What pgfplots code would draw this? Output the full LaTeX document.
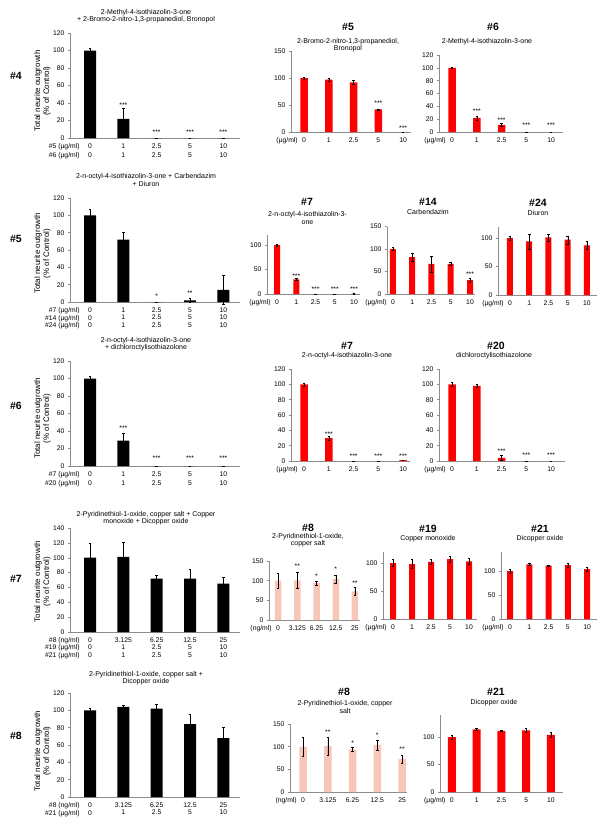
\documentclass[border=0pt]{standalone}
\usepackage{fontspec}
\setmainfont{Liberation Sans}
\usepackage{pgfplots}
\pgfplotsset{compat=1.18}
\definecolor{barred}{RGB}{255,0,0}
\definecolor{salmon}{RGB}{247,198,184}
\definecolor{axgray}{RGB}{140,140,140}
\newcommand{\tl}{\fontsize{6.8}{7.6}\selectfont}
\newcommand{\ttl}{\fontsize{7}{7.6}\selectfont}
\newcommand{\hd}{\fontsize{10.5}{12}\selectfont\bfseries}
\newcommand{\ylab}{\fontsize{8}{9}\selectfont}
\tikzset{star/.style={font=\tl, inner sep=0pt}}
\pgfplotsset{
 base/.style={scale only axis, clip=false, axis x line*=bottom, axis y line*=left,
   axis line style={draw=axgray, line width=0.5pt},
   ymin=0, xtick={0,1,2,3,4}, x tick style={draw=none},
   y tick style={draw=axgray, line width=0.4pt}, major tick length=2pt, tick align=outside,
   tick label style={font=\tl}, /pgf/number format/assume math mode=true,
   anchor=south west, ybar, bar width=6pt},
 leftax/.style={base, width=170pt, xmin=-0.6, xmax=4.5, ymax=120, ytick={0,20,...,120}, bar width=12pt,
   xticklabel style={align=center}},
 bars/.style={fill=#1, draw=none, error bars/.cd, y dir=both, y explicit,
   error bar style={black, line width=0.4pt},
   error mark options={rotate=90, black, mark size=1.3pt, line width=0.4pt}},
}
\newcommand{\ugl}{\llap{(µg/ml)\hspace{4.5pt}}0}
\newcommand{\ngl}{\llap{(ng/ml)\hspace{4.5pt}}0}
\begin{document}
\begin{tikzpicture}
\useasboundingbox (0pt,0pt) rectangle (609pt,-827pt);
% ================= Row #4 =================
\node[font=\hd] at (16pt,-76pt) {\#4};
\node[rotate=90, align=center, font=\ylab] at (42.5pt,-91pt) {Total neurite outgrowth\\(\% of Control)};
\node[align=center, font=\ttl] at (146pt,-16pt) {2-Methyl-4-isothiazolin-3-one\\+ 2-Bromo-2-nitro-1,3-propanediol, Bronopol};
\begin{axis}[leftax, at={(70pt,-138pt)}, height=105pt,
 xticklabels={{\llap{\#5 (µg/ml)\hspace{8.5pt}}0\\\llap{\#6 (µg/ml)\hspace{8.5pt}}0},{1\\1},{2.5\\2.5},{5\\5},{10\\10}},
 xticklabel style={font=\fontsize{6.8}{9.5}\selectfont}]
\addplot[bars=black] table[x=x,y=y,y error=e]{
x y e
0 100 3
1 22 12
2 0 0
3 0 0
4 0 0
};
\node[star] at (axis cs:1,37.7){***};
\node[star] at (axis cs:2,6.9){***};
\node[star] at (axis cs:3,6.9){***};
\node[star] at (axis cs:4,6.9){***};
\end{axis}
% #5
\node[font=\hd] at (348pt,-27pt) {\#5};
\node[align=center, font=\ttl] at (348pt,-45pt) {2-Bromo-2-nitro-1,3-propanediol,\\Bronopol};
\begin{axis}[base, at={(291pt,-132pt)}, width=119.5pt, height=81pt, xmin=-0.53, xmax=4.3, ymax=150, ytick={0,50,100,150},
 xticklabels={\ugl,1,2.5,5,10}, bar width=7.5pt]
\addplot[bars=barred] table[x=x,y=y,y error=e]{
x y e
0 100 1.5
1 97 2
2 92 4
3 42 1
4 0 0
};
\node[star] at (axis cs:3,53.7){***};
\node[star] at (axis cs:4,7.4){***};
\end{axis}
% #6
\node[font=\hd] at (493pt,-27pt) {\#6};
\node[align=center, font=\ttl] at (487pt,-42pt) {2-Methyl-4-isothiazolin-3-one};
\begin{axis}[base, at={(439pt,-132pt)}, width=124pt, height=77pt, xmin=-0.53, xmax=4.48, ymax=120, ytick={0,20,...,120},
 xticklabels={\ugl,1,2.5,5,10}, bar width=7.5pt]
\addplot[bars=barred] table[x=x,y=y,y error=e]{
x y e
0 100 1
1 22 3
2 11 2
3 0 0
4 0 0
};
\node[star] at (axis cs:1,32.7){***};
\node[star] at (axis cs:2,18.7){***};
\node[star] at (axis cs:3,10.9){***};
\node[star] at (axis cs:4,10.9){***};
\end{axis}
% ================= Row #5 =================
\node[font=\hd] at (16pt,-239pt) {\#5};
\node[rotate=90, align=center, font=\ylab] at (42.5pt,-253.5pt) {Total neurite outgrowth\\(\% of Control)};
\node[align=center, font=\ttl] at (146pt,-180pt) {2-n-octyl-4-isothiazolin-3-one + Carbendazim\\+ Diuron};
\begin{axis}[leftax, at={(70pt,-302pt)}, height=104pt,
 xticklabels={{\llap{\#7 (µg/ml)\hspace{8.5pt}}0\\\llap{\#14 (µg/ml)\hspace{8.5pt}}0\\\llap{\#24 (µg/ml)\hspace{8.5pt}}0},{1\\1\\1},{2.5\\2.5\\2.5},{5\\5\\5},{10\\10\\10}},
 xticklabel style={font=\fontsize{6.8}{7.6}\selectfont}]
\addplot[bars=black] table[x=x,y=y,y error=e]{
x y e
0 100 7
1 72 8
2 0 0
3 2 2
4 14 17
};
\node[star] at (axis cs:2,6.9){*};
\node[star] at (axis cs:3,10.4){**};
\end{axis}
% #7
\node[font=\hd] at (307pt,-202pt) {\#7};
\node[align=center, font=\ttl] at (307.5pt,-218pt) {2-n-octyl-4-isothiazolin-3-\\one};
\begin{axis}[base, at={(267pt,-294pt)}, width=92.8pt, height=58.8pt, xmin=-0.52, xmax=4.3, ymax=120, ytick={0,50,100},
 xticklabels={\ugl,1,2.5,5,10}, bar width=6pt]
\addplot[bars=barred] table[x=x,y=y,y error=e]{
x y e
0 100 2
1 30 2
2 0 0
3 0 0
4 0.5 0.5
};
\node[star] at (axis cs:1,36.7){***};
\node[star] at (axis cs:2,10.2){***};
\node[star] at (axis cs:3,10.2){***};
\node[star] at (axis cs:4,10.2){***};
\end{axis}
% #14
\node[font=\hd] at (428pt,-202pt) {\#14};
\node[align=center, font=\ttl] at (428pt,-212pt) {Carbendazim};
\begin{axis}[base, at={(387pt,-294pt)}, width=88pt, height=67.5pt, xmin=-0.31, xmax=4.26, ymax=150, ytick={0,50,100,150},
 xticklabels={\ugl,1,2.5,5,10}, bar width=6pt]
\addplot[bars=barred] table[x=x,y=y,y error=e]{
x y e
0 100 3
1 82 8
2 67 18
3 67 4
4 31 4
};
\node[star] at (axis cs:4,44){***};
\end{axis}
% #24
\node[font=\hd] at (538pt,-203pt) {\#24};
\node[align=center, font=\ttl] at (538pt,-213pt) {Diuron};
\begin{axis}[base, at={(498pt,-295pt)}, width=98.6pt, height=68.4pt, xmin=-0.62, xmax=4.5, ymax=120, ytick={0,50,100},
 xticklabels={\ugl,1,2.5,5,10}, bar width=6pt]
\addplot[bars=barred] table[x=x,y=y,y error=e]{
x y e
0 100 4
1 94 13
2 101 6
3 97 7
4 87 7
};
\end{axis}
% ================= Row #6 =================
\node[font=\hd] at (16pt,-406pt) {\#6};
\node[rotate=90, align=center, font=\ylab] at (42.5pt,-418.5pt) {Total neurite outgrowth\\(\% of Control)};
\node[align=center, font=\ttl] at (146pt,-344pt) {2-n-octyl-4-isothiazolin-3-one\\+ dichloroctylisothiazolone};
\begin{axis}[leftax, at={(70pt,-466pt)}, height=105pt,
 xticklabels={{\llap{\#7 (µg/ml)\hspace{8.5pt}}0\\\llap{\#20 (µg/ml)\hspace{8.5pt}}0},{1\\1},{2.5\\2.5},{5\\5},{10\\10}},
 xticklabel style={font=\fontsize{6.8}{9.3}\selectfont}]
\addplot[bars=black] table[x=x,y=y,y error=e]{
x y e
0 100 3
1 29 9
2 0 0
3 0 0
4 0 0
};
\node[star] at (axis cs:1,43.4){***};
\node[star] at (axis cs:2,9.1){***};
\node[star] at (axis cs:3,9.1){***};
\node[star] at (axis cs:4,9.1){***};
\end{axis}
% #7
\node[font=\hd] at (347pt,-346pt) {\#7};
\node[align=center, font=\ttl] at (347pt,-356pt) {2-n-octyl-4-isothiazolin-3-one};
\begin{axis}[base, at={(291pt,-461pt)}, width=119pt, height=92pt, xmin=-0.53, xmax=4.28, ymax=120, ytick={0,20,...,120},
 xticklabels={\ugl,1,2.5,5,10}, bar width=7.5pt]
\addplot[bars=barred] table[x=x,y=y,y error=e]{
x y e
0 100 2
1 30 3
2 0 0
3 0 0
4 1 0.5
};
\node[star] at (axis cs:1,35.2){***};
\node[star] at (axis cs:2,6.5){***};
\node[star] at (axis cs:3,6.5){***};
\node[star] at (axis cs:4,6.5){***};
\end{axis}
% #20
\node[font=\hd] at (496pt,-346pt) {\#20};
\node[align=center, font=\ttl] at (494pt,-356pt) {dichloroctylisothiazolone};
\begin{axis}[base, at={(439pt,-461pt)}, width=125.7pt, height=92pt, xmin=-0.53, xmax=4.55, ymax=120, ytick={0,20,...,120},
 xticklabels={\ugl,1,2.5,5,10}, bar width=7.5pt]
\addplot[bars=barred] table[x=x,y=y,y error=e]{
x y e
0 100 3
1 98 2
2 4 3
3 0 0
4 0 0
};
\node[star] at (axis cs:2,13){***};
\node[star] at (axis cs:3,7.8){***};
\node[star] at (axis cs:4,7.8){***};
\end{axis}
% ================= Row #7 =================
\node[font=\hd] at (16pt,-579pt) {\#7};
\node[rotate=90, align=center, font=\ylab] at (42.5pt,-581.7pt) {Total neurite outgrowth\\(\% of Control)};
\node[align=center, font=\ttl] at (146pt,-518pt) {2-Pyridinethiol-1-oxide, copper salt + Copper\\monoxide + Dicopper oxide};
\begin{axis}[leftax, at={(70pt,-632pt)}, height=104pt, ymax=140, ytick={0,20,...,140},
 xticklabels={{\llap{\#8 (ng/ml)\hspace{8.5pt}}0\\\llap{\#19 (µg/ml)\hspace{8.5pt}}0\\\llap{\#21 (µg/ml)\hspace{8.5pt}}0},{3.125\\1\\1},{6.25\\2.5\\2.5},{12.5\\5\\5},{25\\10\\10}},
 xticklabel style={font=\fontsize{6.8}{7.5}\selectfont}]
\addplot[bars=black] table[x=x,y=y,y error=e]{
x y e
0 100 19
1 101 20
2 72 4
3 72 12
4 65 9
};
\end{axis}
% #8
\node[font=\hd] at (308pt,-528pt) {\#8};
\node[align=center, font=\ttl] at (308pt,-540pt) {2-Pyridinethiol-1-oxide,\\copper salt};
\begin{axis}[base, at={(269pt,-620pt)}, width=91pt, height=59pt, xmin=-0.47, xmax=4.26, ymax=150, ytick={0,50,100,150},
 xticklabels={\ngl,3.125,6.25,12.5,25}, bar width=6.5pt]
\addplot[bars=salmon] table[x=x,y=y,y error=e]{
x y e
0 100 20
1 101 20
2 94 5
3 104 11
4 73 10
};
\node[star] at (axis cs:1,137){**};
\node[star] at (axis cs:2,112){*};
\node[star] at (axis cs:3,130){*};
\node[star] at (axis cs:4,94){**};
\end{axis}
% #19
\node[font=\hd] at (428pt,-529pt) {\#19};
\node[align=center, font=\ttl] at (428pt,-539pt) {Copper monoxide};
\begin{axis}[base, at={(383pt,-619pt)}, width=94pt, height=67.2pt, xmin=-0.53, xmax=4.42, ymax=120, ytick={0,50,100},
 xticklabels={\ugl,1,2.5,5,10}, bar width=6pt]
\addplot[bars=barred] table[x=x,y=y,y error=e]{
x y e
0 100 6
1 98 8
2 102 4
3 107 5
4 103 6
};
\end{axis}
% #21
\node[font=\hd] at (540pt,-529pt) {\#21};
\node[align=center, font=\ttl] at (540pt,-539pt) {Dicopper oxide};
\begin{axis}[base, at={(501pt,-619pt)}, width=95.7pt, height=67.2pt, xmin=-0.47, xmax=4.5, ymax=140, ytick={0,50,100},
 xticklabels={\ugl,1,2.5,5,10}, bar width=6pt]
\addplot[bars=barred] table[x=x,y=y,y error=e]{
x y e
0 100 4
1 114 2
2 111 1
3 112 4
4 104 4
};
\end{axis}
% ================= Row #8 =================
\node[font=\hd] at (16pt,-736pt) {\#8};
\node[rotate=90, align=center, font=\ylab] at (42.5pt,-751pt) {Total neurite outgrowth\\(\% of Control)};
\node[align=center, font=\ttl] at (146pt,-678pt) {2-Pyridinethiol-1-oxide, copper salt +\\Dicopper oxide};
\begin{axis}[leftax, at={(70pt,-797pt)}, height=104pt,
 xticklabels={{\llap{\#8 (ng/ml)\hspace{8.5pt}}0\\\llap{\#21 (µg/ml)\hspace{8.5pt}}0},{3.125\\1},{6.25\\2.5},{12.5\\5},{25\\10}},
 xticklabel style={font=\fontsize{6.8}{7.7}\selectfont}]
\addplot[bars=black] table[x=x,y=y,y error=e]{
x y e
0 100 3
1 104 2
2 102 5
3 84 11
4 68 12
};
\end{axis}
% #8
\node[font=\hd] at (344pt,-692pt) {\#8};
\node[align=center, font=\ttl] at (345pt,-707pt) {2-Pyridinethiol-1-oxide, copper\\salt};
\begin{axis}[base, at={(290pt,-792pt)}, width=117pt, height=68pt, xmin=-0.53, xmax=4.2, ymax=150, ytick={0,50,100,150},
 xticklabels={\ngl,3.125,6.25,12.5,25}, bar width=7.5pt]
\addplot[bars=salmon] table[x=x,y=y,y error=e]{
x y e
0 100 20
1 101 20
2 94 4
3 104 11
4 73 9
};
\node[star] at (axis cs:1,132){**};
\node[star] at (axis cs:2,108){*};
\node[star] at (axis cs:3,126){*};
\node[star] at (axis cs:4,95){**};
\end{axis}
% #21
\node[font=\hd] at (496pt,-692pt) {\#21};
\node[align=center, font=\ttl] at (494pt,-703pt) {Dicopper oxide};
\begin{axis}[base, at={(440pt,-792pt)}, width=122.8pt, height=77pt, xmin=-0.48, xmax=4.48, ymax=140, ytick={0,50,100},
 xticklabels={\ugl,1,2.5,5,10}, bar width=8pt]
\addplot[bars=barred] table[x=x,y=y,y error=e]{
x y e
0 100 4
1 114 2
2 111 1
3 112 4
4 104 4
};
\end{axis}
\end{tikzpicture}
\end{document}
